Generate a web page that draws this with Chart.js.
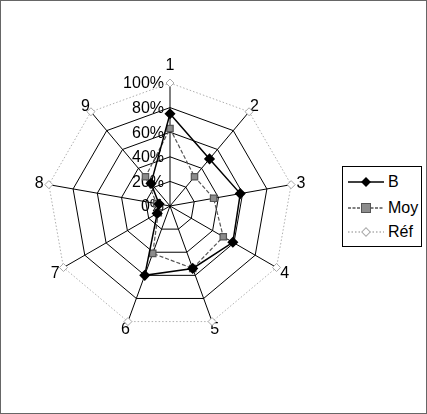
<!DOCTYPE html>
<html>
<head>
<meta charset="utf-8">
<script src="https://cdn.jsdelivr.net/npm/chart.js@4.4.0/dist/chart.umd.min.js"></script>
<style>
    body { margin: 0; background: #fff; font-family: "Liberation Sans", Arial, sans-serif; }
    #wrap { position: relative; width: 427px; height: 414px; }
    #legend { position: absolute; left: 342px; top: 166px; width: 80px; height: 81px; border: 1px solid #000; box-sizing: border-box; background: #fff; }
    .item { position: absolute; left: 4px; height: 20px; display: flex; align-items: center; font-size: 16px; color: #000; }
    .item svg { margin-right: 3px; }
</style>
</head>
<body>
<div id="wrap">
    <canvas id="radar" width="427" height="414"></canvas>
    <div id="legend"></div>
</div>
<script>
const categories = ['1', '2', '3', '4', '5', '6', '7', '8', '9'];
const valuesB = [75, 50, 58, 59, 54, 60, 12, 9, 24];
const valuesMoy = [63, 31, 36, 50, 54, 41, 11, 11, 31];
const valuesRef = [100, 100, 100, 100, 100, 100, 100, 100, 100];
const tickValues = [0, 20, 40, 60, 80, 100];
const tickLabels = ['0%', '20%', '40%', '60%', '80%', '100%'];

const FONT = '16px "Liberation Sans", Arial, sans-serif';

// textes des axes et graduations, dessinés avec l'échelle radiale
const labelPlugin = {
    id: 'radarLabels',
    beforeDraw(chart) {
        const ctx = chart.ctx;
        ctx.save();
        ctx.fillStyle = '#fff';
        ctx.fillRect(0, 0, chart.width, chart.height);
        ctx.strokeStyle = '#666';
        ctx.lineWidth = 1;
        ctx.strokeRect(0.5, 0.5, chart.width - 1, chart.height - 1);
        ctx.restore();
    },
    beforeDatasetsDraw(chart) {
        const scale = chart.scales.r;
        const ctx = chart.ctx;
        ctx.save();
        ctx.font = FONT;
        ctx.fillStyle = '#000';
        ctx.textBaseline = 'middle';

        ctx.textAlign = 'right';
        tickValues.forEach((v, i) => {
            const y = scale.yCenter - scale.getDistanceFromCenterForValue(v);
            ctx.fillText(tickLabels[i], scale.xCenter - 6, y + 1);
        });

        ctx.textAlign = 'center';
        categories.forEach((c, i) => {
            const a = scale.getIndexAngle(i) - Math.PI / 2;
            let d = 6 + 4 * Math.abs(Math.cos(a));
            if (i === 0) d += 12;
            const p = scale.getPointPosition(i, scale.drawingArea + d);
            ctx.fillText(c, p.x, p.y + 1);
        });
        ctx.restore();
    }
};

new Chart(document.getElementById('radar').getContext('2d'), {
    type: 'radar',
    data: {
        labels: categories,
        datasets: [{
            label: 'B',
            data: valuesB,
            borderColor: '#000',
            borderWidth: 1.5,
            pointStyle: 'rectRot',
            pointRadius: 4.5,
            pointBackgroundColor: '#000',
            pointBorderColor: '#000',
            fill: false,
            order: 1
        }, {
            label: 'Moy',
            data: valuesMoy,
            borderColor: '#555',
            borderWidth: 1.2,
            borderDash: [4, 2],
            pointStyle: 'rect',
            pointRadius: 4.5,
            pointBackgroundColor: '#8c8c8c',
            pointBorderColor: '#555',
            fill: false,
            order: 2
        }, {
            label: 'Réf',
            data: valuesRef,
            borderColor: '#b0b0b0',
            borderWidth: 1,
            borderDash: [1.5, 2],
            pointStyle: 'rectRot',
            pointRadius: 4,
            pointBackgroundColor: '#fff',
            pointBorderColor: '#aaa',
            fill: false,
            order: 3
        }]
    },
    options: {
        responsive: false,
        animation: false,
        layout: { padding: { left: 47, right: 134, top: 83, bottom: 85 } },
        plugins: { legend: { display: false }, tooltip: { enabled: false } },
        elements: { line: { tension: 0 } },
        scales: {
            r: {
                min: 0,
                max: 100,
                ticks: { display: false, stepSize: 20 },
                pointLabels: { display: false },
                grid: {
                    color: (c) => (c.tick && c.tick.value === 100) ? 'rgba(0,0,0,0)' : '#000',
                    lineWidth: 1
                },
                angleLines: { color: '#000', lineWidth: 1 }
            }
        }
    },
    plugins: [labelPlugin]
});

// légende à droite
const legendItems = [
    { text: 'B', y: 16, line: '#000', dash: '', marker: '<rect x="-3.5" y="-3.5" width="7" height="7" fill="#000" transform="translate(19,10) rotate(45)"/>' },
    { text: 'Moy', y: 42, line: '#555', dash: '3,1.5', marker: '<rect x="14.5" y="5.5" width="9" height="9" fill="#8c8c8c" stroke="#555"/>' },
    { text: 'Réf', y: 66, line: '#b0b0b0', dash: '1.5,2', marker: '<rect x="-3" y="-3" width="6" height="6" fill="#fff" stroke="#aaa" transform="translate(19,10) rotate(45)"/>' }
];
const legend = document.getElementById('legend');
legendItems.forEach(it => {
    const div = document.createElement('div');
    div.className = 'item';
    div.style.top = (it.y - 11) + 'px';
    div.innerHTML = '<svg width="38" height="20"><line x1="1" y1="10" x2="37" y2="10" stroke="' + it.line +
        '" stroke-width="1.3" stroke-dasharray="' + it.dash + '"/>' + it.marker + '</svg><span>' + it.text + '</span>';
    legend.appendChild(div);
});
</script>
</body>
</html>
